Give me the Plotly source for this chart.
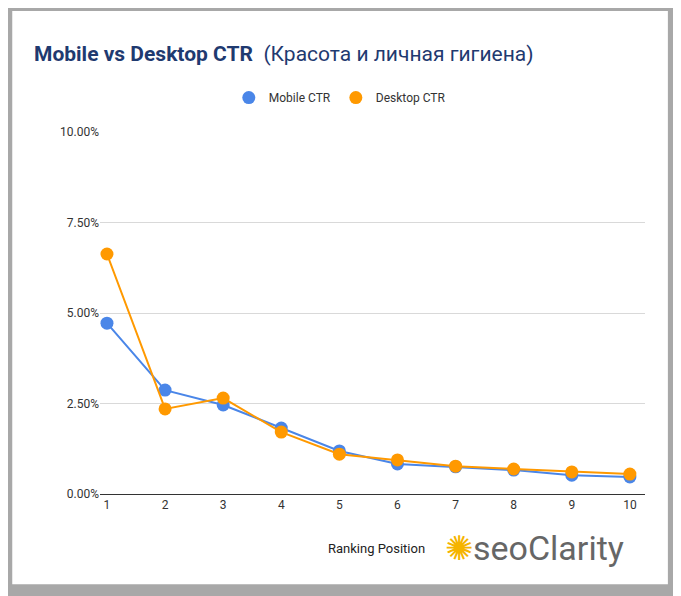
import plotly.graph_objects as go

positions = [1, 2, 3, 4, 5, 6, 7, 8, 9, 10]
mobile_ctr = [4.72, 2.87, 2.46, 1.82, 1.19, 0.83, 0.75, 0.66, 0.52, 0.47]
desktop_ctr = [6.63, 2.35, 2.65, 1.71, 1.10, 0.94, 0.77, 0.69, 0.61, 0.55]
y_ticks = [0, 2.5, 5, 7.5, 10]
y_labels = ['0.00%', '2.50%', '5.00%', '7.50%', '10.00%']

fig = go.Figure()
for name, vals, color in [('Mobile CTR', mobile_ctr, '#4a86e8'), ('Desktop CTR', desktop_ctr, '#ff9900')]:
    fig.add_trace(go.Scatter(x=positions, y=vals, name=name, mode='lines+markers', showlegend=False,
                             line=dict(color=color, width=2), marker=dict(color=color, size=13)))
    # legend entry: dot only
    fig.add_trace(go.Scatter(x=[None], y=[None], name=name, mode='markers',
                             marker=dict(color=color, size=13)))

fig.update_layout(
    width=681, height=596,
    paper_bgcolor='#a8a8a8', plot_bgcolor='white',
    margin=dict(l=92, r=44, t=124, b=110, autoexpand=False),
    font=dict(family='Roboto, Arial', size=12, color='#444'),
    xaxis=dict(range=[0.88, 10.26], tickvals=positions, showgrid=False, zeroline=False,
               showline=True, linecolor='#333', linewidth=1, tickfont=dict(size=12, color='#333')),
    yaxis=dict(range=[0, 10], tickvals=y_ticks, ticktext=y_labels, showgrid=True, gridcolor='#d9d9d9',
               zeroline=False, tickfont=dict(size=12, color='#333'), ticks='', ticklen=0),
    legend=dict(orientation='h', x=0.44, xanchor='center', y=1.095, yanchor='middle',
                bgcolor='white', font=dict(size=12, color='#333')),
    shapes=[dict(type='rect', xref='paper', yref='paper', x0=-0.161, x1=1.042, y0=-0.249, y1=1.334,
                 fillcolor='white', line=dict(width=0), layer='below')],
    annotations=[
        dict(xref='paper', yref='paper', x=-0.125, y=1.215, xanchor='left', yanchor='middle', showarrow=False,
             text='<b>Mobile vs Desktop CTR</b>  (Красота и личная гигиена)',
             font=dict(family='Roboto, Arial', size=21, color='#1f3a70')),
        dict(xref='paper', yref='paper', x=0.6, y=-0.15, xanchor='right', yanchor='middle', showarrow=False,
             text='Ranking Position', font=dict(size=13, color='#222')),
        dict(xref='paper', yref='paper', x=0.63, y=-0.15, xanchor='left', yanchor='middle', showarrow=False,
             text='<span style="color:#f5b400">✺</span>seoClarity',
             font=dict(family='Roboto, Arial', size=34, color='#666')),
    ],
)

fig.write_html('out.html')
